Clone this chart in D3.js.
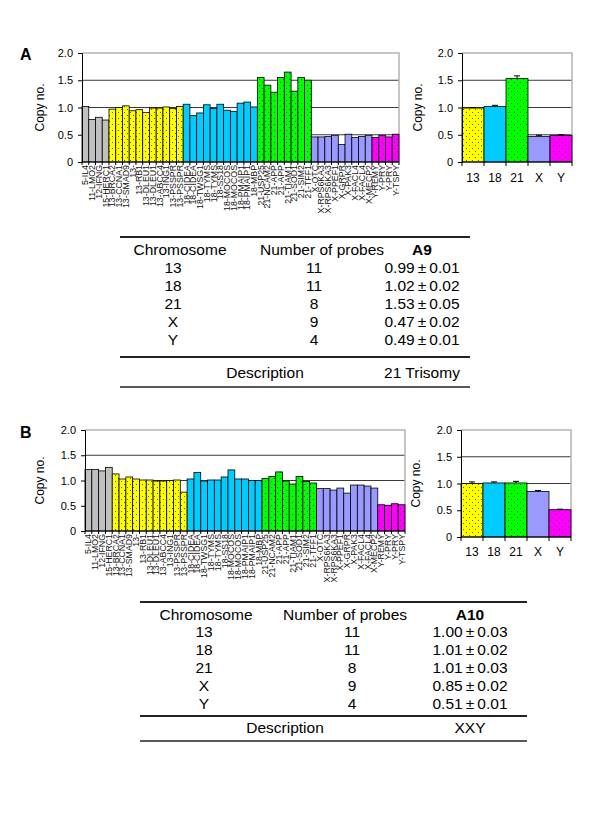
<!DOCTYPE html>
<html><head><meta charset="utf-8">
<script src="https://cdn.jsdelivr.net/npm/d3@7"></script>
<style>body{margin:0;background:#fff}svg{display:block}</style>
</head><body><svg id="c" width="600" height="822"></svg>
<script>
// ---------- data ----------
const probeLabels = ["5-IL4","11-LMO2","12-IFNG","15-HERC1",
 "13-BRCA2","13-CCNA1","13-SMAD9","13-","13-RB1","13-DLEU1","13-DLEU1","13-ABCC4","13-ING1","13-PSSPR","13-PSSPR",
 "18-CIDEA","18-CIDEA","18-TWSG1","18-TYMS","18-TYMS","18-SS18","18-MOCOS","18-MOCOS","18-PMAIP1","18-PMAIP1","18-MBP",
 "21-USP25","21-NCAM2","21-APP","21-APP","21-TIAM1","21-SOD1","21-SIM2","21-TFF1",
 "X-OTC","X-RPS6KA3","X-RPS6KA3","X-PPEF1","X-GRPR","X-PAK3","X-FACL4","X-FACL4","X-MECP2",
 "Y-REMY","Y-PRY","Y-PRY","Y-TSPY"];
const probeGroups = ["C","C","C","C",
 "13","13","13","13","13","13","13","13","13","13","13",
 "18","18","18","18","18","18","18","18","18","18","18",
 "21","21","21","21","21","21","21","21",
 "X","X","X","X","X","X","X","X","X",
 "Y","Y","Y","Y"];
const probeValuesA = [1.02,0.78,0.82,0.77,
 0.97,1.00,1.03,0.94,0.96,0.91,0.99,0.99,1.01,0.98,1.02,
 1.06,0.85,0.90,1.05,0.98,1.06,0.95,0.93,1.08,1.10,1.01,
 1.55,1.41,1.28,1.55,1.65,1.30,1.55,1.50,
 0.46,0.46,0.47,0.49,0.32,0.51,0.45,0.47,0.49,
 0.45,0.49,0.46,0.51];
const probeValuesB = [1.22,1.22,1.19,1.26,
 1.13,1.03,1.07,1.03,1.01,1.01,0.99,0.99,1.00,1.01,0.77,
 1.03,1.16,0.99,1.01,1.01,1.07,1.21,1.03,1.03,1.00,1.00,
 1.04,1.08,1.17,0.99,0.93,1.08,0.98,0.95,
 0.84,0.84,0.81,0.85,0.75,0.91,0.91,0.89,0.85,
 0.52,0.51,0.54,0.52];
const chromosomes = ["13","18","21","X","Y"];
const numProbes = [11,11,8,9,4];
const meanA = [0.99,1.02,1.53,0.47,0.49];
const errA  = [0.01,0.02,0.05,0.02,0.01];
const meanB = [1.00,1.01,1.01,0.85,0.51];
const errB  = [0.03,0.02,0.03,0.02,0.01];
const yTicks = [0,0.5,1.0,1.5,2.0];
const yTickLabels = ["0","0.5","1.0","1.5","2.0"];
const tableHeaders = ["Chromosome","Number of probes"];
const sampleA = "A9", sampleB = "A10";
const descA = "21 Trisomy", descB = "XXY";

// ---------- styles ----------
const FONT = "Arial, 'Liberation Sans', sans-serif";
const colors = {C:"#c0c0c0","13":"#ffff00","18":"#00ccff","21":"#00ff00",X:"#9999ff",Y:"#ff00ff"};
const dotted = {C:false,"13":true,"18":false,"21":true,X:false,Y:true};

const svg = d3.select("#c");
svg.append("rect").attr("width",600).attr("height",822).attr("fill","#fff");
const defs = svg.append("defs");
Object.keys(colors).forEach(k=>{
  if(!dotted[k]) return;
  const p = defs.append("pattern").attr("id","pat"+k).attr("patternUnits","userSpaceOnUse")
    .attr("width",6).attr("height",6);
  p.append("rect").attr("width",6).attr("height",6).attr("fill",colors[k]);
  p.append("rect").attr("x",1).attr("y",1).attr("width",1).attr("height",1).attr("fill","#555");
  p.append("rect").attr("x",4).attr("y",4).attr("width",1).attr("height",1).attr("fill","#555");
});
const fillOf = k => dotted[k] ? `url(#pat${k})` : colors[k];

function frame(g, x0, x1, y){
  g.selectAll(".grid").data(yTicks.filter(t=>t>0 && t<2)).join("line")
    .attr("x1",x0).attr("x2",x1).attr("y1",d=>y(d)).attr("y2",d=>y(d))
    .attr("stroke","#3a3a3a").attr("stroke-width",1);
  g.append("path").attr("d",`M${x0},${y(2)}H${x1}V${y(0)}`).attr("fill","none")
    .attr("stroke","#b4b4b4").attr("stroke-width",1.5);
}
function yAxis(g, x0, y, labelX, labelY){
  const ax = g.append("g").attr("transform",`translate(${x0},0)`)
    .call(d3.axisLeft(y).tickValues(yTicks).tickFormat((d,i)=>yTickLabels[i]).tickSize(4).tickPadding(5));
  ax.select(".domain").attr("stroke","#000");
  ax.selectAll("text").attr("font-family",FONT).attr("font-size",11).attr("fill","#000");
  g.append("text").attr("transform",`translate(${labelX},${labelY}) rotate(-90)`)
    .attr("text-anchor","middle").attr("font-family",FONT).attr("font-size",12).text("Copy no.");
}

function mainChart(x0,x1,yTop,yBot,values){
  const g = svg.append("g");
  const x = d3.scaleBand().domain(d3.range(values.length)).range([x0,x1]).padding(0);
  const y = d3.scaleLinear().domain([0,2]).range([yBot,yTop]);
  frame(g,x0,x1,y);
  g.selectAll(".bar").data(values).join("rect")
    .attr("x",(d,i)=>x(i)).attr("width",x.bandwidth())
    .attr("y",d=>y(d)).attr("height",d=>y(0)-y(d))
    .attr("fill",(d,i)=>fillOf(probeGroups[i])).attr("stroke","#000").attr("stroke-width",0.8);
  g.append("line").attr("x1",x0).attr("x2",x1).attr("y1",y(0)).attr("y2",y(0)).attr("stroke","#000");
  g.selectAll(".xt").data(d3.range(values.length+1)).join("line")
    .attr("x1",i=>x0+i*x.bandwidth()).attr("x2",i=>x0+i*x.bandwidth())
    .attr("y1",y(0)).attr("y2",y(0)+3).attr("stroke","#000");
  g.selectAll(".xl").data(probeLabels).join("text")
    .attr("transform",(d,i)=>`translate(${x(i)+x.bandwidth()/2+3},${y(0)+3}) rotate(-90)`)
    .attr("text-anchor","end").attr("font-family",FONT).attr("font-size",8.8).attr("fill","#111").text(d=>d);
  yAxis(g,x0,y,44,(yTop+yBot)/2);
}

function summaryChart(x0,x1,yTop,yBot,means,errs,labelX,catBase){
  const g = svg.append("g");
  const x = d3.scaleBand().domain(chromosomes).range([x0,x1]).padding(0);
  const y = d3.scaleLinear().domain([0,2]).range([yBot,yTop]);
  frame(g,x0,x1,y);
  g.selectAll(".bar").data(means).join("rect")
    .attr("x",(d,i)=>x(chromosomes[i])).attr("width",x.bandwidth())
    .attr("y",d=>y(d)).attr("height",d=>y(0)-y(d))
    .attr("fill",(d,i)=>fillOf(chromosomes[i])).attr("stroke","#000").attr("stroke-width",0.8);
  means.forEach((m,i)=>{
    const cx = x(chromosomes[i])+x.bandwidth()/2;
    g.append("line").attr("x1",cx).attr("x2",cx).attr("y1",y(m)).attr("y2",y(m+errs[i])).attr("stroke","#000");
    g.append("line").attr("x1",cx-3).attr("x2",cx+3).attr("y1",y(m+errs[i])).attr("y2",y(m+errs[i])).attr("stroke","#000");
  });
  g.append("line").attr("x1",x0).attr("x2",x1).attr("y1",y(0)).attr("y2",y(0)).attr("stroke","#000");
  g.selectAll(".xt").data(d3.range(chromosomes.length+1)).join("line")
    .attr("x1",i=>x0+i*x.bandwidth()).attr("x2",i=>x0+i*x.bandwidth())
    .attr("y1",y(0)).attr("y2",y(0)+4).attr("stroke","#000");
  g.selectAll(".xl").data(chromosomes).join("text")
    .attr("x",d=>x(d)+x.bandwidth()/2).attr("y",catBase)
    .attr("text-anchor","middle").attr("font-family",FONT).attr("font-size",12).text(d=>d);
  yAxis(g,x0,y,labelX,(yTop+yBot)/2);
}

function table(o){
  const g = svg.append("g").attr("font-family",FONT).attr("font-size",o.fs).attr("fill","#000");
  const ln = (y,w)=>g.append("line").attr("x1",o.x0).attr("x2",o.x1).attr("y1",y).attr("y2",y)
      .attr("stroke","#222").attr("stroke-width",w);
  ln(o.top,2);
  const base = o.top+o.hdr;
  g.append("text").attr("x",o.c1h).attr("y",base).attr("text-anchor","middle").text(tableHeaders[0]);
  g.append("text").attr("x",o.c2h).attr("y",base).attr("text-anchor","middle").text(tableHeaders[1]);
  g.append("text").attr("x",o.c3).attr("y",base).attr("text-anchor","middle").attr("font-weight","bold").text(o.sample);
  chromosomes.forEach((c,i)=>{
    const yy = base+o.first+o.step*i;
    g.append("text").attr("x",o.c1).attr("y",yy).attr("text-anchor","middle").text(c);
    g.append("text").attr("x",o.c2).attr("y",yy).attr("text-anchor","middle").text(numProbes[i]);
    g.append("text").attr("x",o.c3).attr("y",yy).attr("text-anchor","middle")
      .text(o.means[i].toFixed(2)+"\u2009\u00b1\u2009"+o.errs[i].toFixed(2));
  });
  ln(o.mid,2);
  g.append("text").attr("x",o.cd).attr("y",o.desc_y).attr("text-anchor","middle").text("Description");
  g.append("text").attr("x",o.c3).attr("y",o.desc_y).attr("text-anchor","middle").text(o.desc);
  ln(o.bottom,1.5);
}

// ---------- panel A ----------
svg.append("text").attr("x",20).attr("y",60).attr("font-family",FONT).attr("font-weight","bold").attr("font-size",16).text("A");
mainChart(82,399,53,162,probeValuesA);
summaryChart(462,572,53,162,meanA,errA,422,182);
table({x0:120,x1:470,top:237,fs:15.5,hdr:18,first:17.5,step:18.2,c1h:180,c1:173,c2h:322,c2:314,c3:422,cd:265,
  mid:357,desc_y:378,bottom:387,sample:sampleA,means:meanA,errs:errA,desc:descA});

// ---------- panel B ----------
svg.append("text").attr("x",20).attr("y",438).attr("font-family",FONT).attr("font-weight","bold").attr("font-size",16).text("B");
mainChart(85,405,430,531,probeValuesB);
summaryChart(461,571,430,537,meanB,errB,420,556);
table({x0:140,x1:527,top:602,fs:15.5,hdr:18,first:16.5,step:18.2,c1h:206,c1:204,c2h:345,c2:352,c3:470,cd:285,
  mid:716,desc_y:733,bottom:741,sample:sampleB,means:meanB,errs:errB,desc:descB});
</script></body></html>
